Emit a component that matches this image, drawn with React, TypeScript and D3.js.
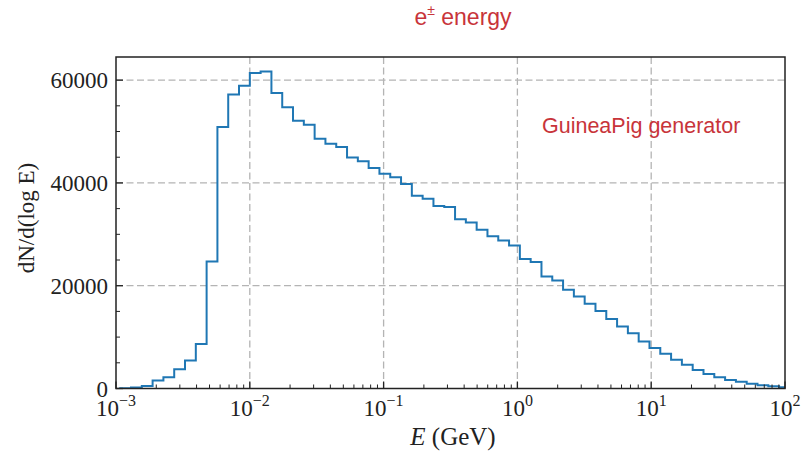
import React from "react";
import * as d3 from "d3";

// Histogram bins: regular in log10(E)
const LOG_START = -2.9686;
const LOG_STEP = 0.08073;
const counts = [
  30, 200, 500, 1540, 2200, 3750, 5430, 8680, 24700, 50900,
  57200, 58900, 61400, 61700, 57500, 54700, 52100, 51300, 48600, 47600,
  47000, 44960, 44200, 42900, 41800, 41100, 39800, 37500, 36900, 35500,
  35300, 32950, 32300, 30900, 29600, 28800, 27800, 25200, 24600, 21800,
  21000, 19200, 17900, 16500, 15100, 13500, 12050, 10770, 9130, 7900,
  6740, 5570, 4600, 3620, 2840, 2200, 1670, 1290, 900, 640,
  450, 250,
];
const xMajorExp = [-3, -2, -1, 0, 1, 2];
const yMajor = [0, 20000, 40000, 60000];
const yMinorStep = 5000;
const yMax = 64500;

const W = 806;
const H = 451;
const L = 116, R = 785, T = 57, B = 388.5;

export default function App() {
  const x = d3.scaleLog().domain([1e-3, 1e2]).range([L, R]);
  const y = d3.scaleLinear().domain([0, yMax]).range([B, T]);

  const edges = d3.range(counts.length + 1).map((k) => Math.pow(10, LOG_START + k * LOG_STEP));
  const pts: [number, number][] = [[edges[0], 0]];
  counts.forEach((v, k) => pts.push([edges[k], v]));
  pts.push([edges[counts.length], 0]);
  const line = d3
    .line<[number, number]>()
    .x((d) => x(d[0]))
    .y((d) => y(d[1]))
    .curve(d3.curveStepAfter);

  const xMinor: number[] = [];
  for (let e = -3; e < 2; e++) for (let m = 2; m <= 9; m++) xMinor.push(m * Math.pow(10, e));
  const yMinor = d3.range(0, yMax, yMinorStep).filter((v) => v % 20000 !== 0);

  const serif = "'Liberation Serif', 'Times New Roman', serif";
  const sans = "'Liberation Sans', Arial, sans-serif";
  const red = "#c8343a";
  const gridStyle = { stroke: "#b4b4b4", strokeWidth: 1.3, strokeDasharray: "7,3.5" };

  return (
    <svg width={W} height={H} style={{ position: "absolute", left: 0, top: 0, background: "#fff" }}>
      <defs>
        <clipPath id="plotclip">
          <rect x={L} y={T} width={R - L} height={B - T} />
        </clipPath>
      </defs>
      <rect x={0} y={0} width={W} height={H} fill="#fff" />
      {/* grid */}
      {xMajorExp.slice(1, -1).map((e) => (
        <line key={"gx" + e} x1={x(Math.pow(10, e))} x2={x(Math.pow(10, e))} y1={T} y2={B} {...gridStyle} />
      ))}
      {yMajor.slice(1).map((v) => (
        <line key={"gy" + v} x1={L} x2={R} y1={y(v)} y2={y(v)} {...gridStyle} />
      ))}
      {/* histogram */}
      <path d={line(pts) || ""} fill="none" stroke="#1f77b4" strokeWidth={2} clipPath="url(#plotclip)" />
      {/* ticks */}
      {xMajorExp.map((e) => (
        <line key={"tx" + e} x1={x(Math.pow(10, e))} x2={x(Math.pow(10, e))} y1={B} y2={B - 7} stroke="#222" strokeWidth={1.3} />
      ))}
      {xMinor.map((v, i) => (
        <line key={"mx" + i} x1={x(v)} x2={x(v)} y1={B} y2={B - 4} stroke="#222" strokeWidth={1} />
      ))}
      {yMajor.map((v) => (
        <line key={"ty" + v} x1={L} x2={L + 7} y1={y(v)} y2={y(v)} stroke="#222" strokeWidth={1.3} />
      ))}
      {yMinor.map((v) => (
        <line key={"my" + v} x1={L} x2={L + 4} y1={y(v)} y2={y(v)} stroke="#222" strokeWidth={1} />
      ))}
      {/* frame */}
      <rect x={L} y={T} width={R - L} height={B - T} fill="none" stroke="#222" strokeWidth={1.5} />
      {/* tick labels */}
      {xMajorExp.map((e) => (
        <text key={"lx" + e} x={x(Math.pow(10, e))} y={416} textAnchor="middle" fontFamily={serif} fontSize={23} fill="#222">
          10
          <tspan fontSize={16} dy={-10}>{e < 0 ? "\u2212" + Math.abs(e) : String(e)}</tspan>
        </text>
      ))}
      {yMajor.map((v) => (
        <text key={"ly" + v} x={L - 8} y={y(v)} dy="0.35em" textAnchor="end" fontFamily={serif} fontSize={23} fill="#222">
          {String(v)}
        </text>
      ))}
      {/* axis labels */}
      <text x={453} y={445} textAnchor="middle" fontFamily={serif} fontSize={25} fill="#222">
        <tspan fontStyle="italic">E</tspan> (GeV)
      </text>
      <text transform="translate(34,218) rotate(-90)" textAnchor="middle" fontFamily={serif} fontSize={23} fill="#222">
        dN/d(log E)
      </text>
      {/* title */}
      <text x={463} y={25} textAnchor="middle" fontFamily={sans} fontSize={23} fill={red}>
        e<tspan fontSize={14} dy={-10}>±</tspan>
        <tspan dy={10}> energy</tspan>
      </text>
      <text x={542} y={133} fontFamily={sans} fontSize={21.5} fill={red}>
        GuineaPig generator
      </text>
    </svg>
  );
}
